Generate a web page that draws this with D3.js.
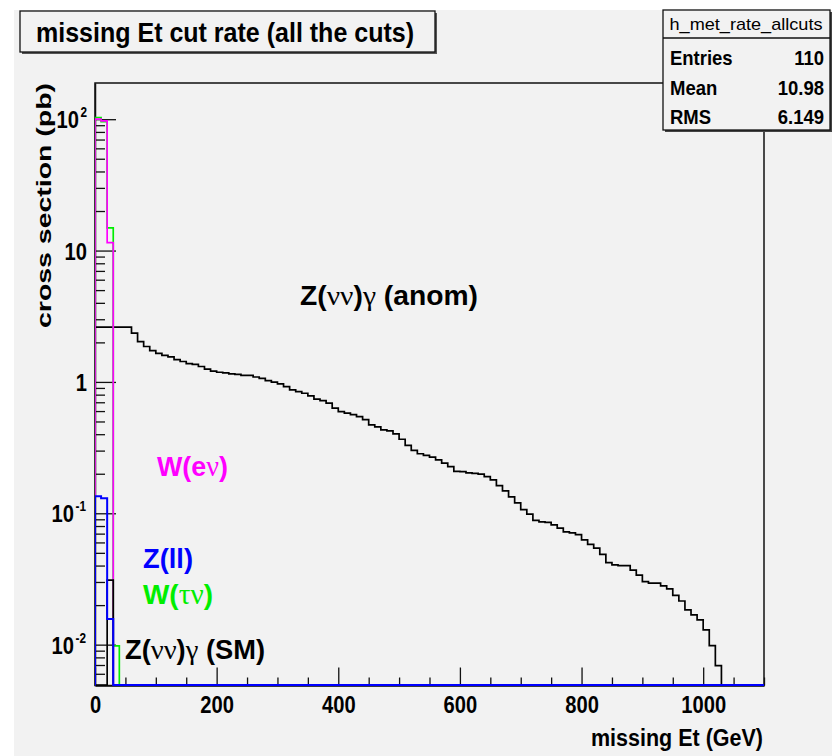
<!DOCTYPE html>
<html><head><meta charset="utf-8">
<script src="https://cdn.jsdelivr.net/npm/d3@7"></script>
<style>body{margin:0;background:#fff} svg{display:block}</style>
</head><body>
<script>
// ---------------- data ----------------
const binWidth = 10; // GeV per bin
const nBins = 110;
const xDomain = [0, 1100];
const yDomain = [0.004887, 188.6];
// Z(nunu)gamma anomalous, bins from 0 GeV, width 10 GeV
const anomValues = [2.61,2.61,2.61,2.61,2.61,2.61,
 2.35,2.03,1.86,1.73,1.65,1.59,1.55,1.48,1.43,1.38,1.36,1.31,1.25,1.21,
 1.185,1.17,1.15,1.14,1.12,1.12,1.09,1.063,1.023,0.995,
 0.966,0.921,0.869,0.844,0.820,0.782,0.739,0.721,0.689,0.631,
 0.594,0.578,0.564,0.544,0.517,0.471,0.454,0.431,0.424,0.402,
 0.366,0.329,0.301,0.284,0.276,0.268,0.255,0.2405,0.2267,0.2084,
 0.2073,0.203,0.2012,0.1984,0.1902,0.1795,0.1625,0.148,0.1333,0.12,
 0.1067,0.0985,0.0883,0.086,0.0852,0.0816,0.077,0.0722,0.0709,0.0687,
 0.0627,0.0579,0.0543,0.0487,0.0421,0.0405,0.04,0.04,0.0369,0.0338,
 0.0302,0.0294,0.0294,0.028,0.0266,0.0237,0.0215,0.0184,0.01686,0.01544,
 0.01296,0.00984,0.00693,0,0,0,0,0,0,0];
const smValues = [0, 0, 0.031];
const wenuValues = [100, 97, 11.5];
const wtaunuValues = [103, 96, 14.9, 0.0098];
const zllValues = [0.135, 0.13, 0.0157];
const xMajorTicks = [0, 200, 400, 600, 800, 1000];
const xMinorTicks = [50,100,150,250,300,350,450,500,550,650,700,750,850,900,950,1050,1100];
const yMajorTicks = [0.01, 0.1, 1, 10, 100];
const yTickLabels = [["10","-2"],["10","-1"],["1",""],["10",""],["10","2"]];
const statsTitle = "h_met_rate_allcuts";
const statsRows = [["Entries","110"],["Mean","10.98"],["RMS","6.149"]];
const titleText = "missing Et cut rate (all the cuts)";
const xTitle = "missing Et (GeV)";
const yTitle = "cross section (pb)";

// ---------------- layout ----------------
const W = 832, H = 756;
const L = 95, R = 764, T = 83, B = 685.5;
const SANS = "'Liberation Sans', Arial, Helvetica, sans-serif";
const SERIF = "'Liberation Serif', 'DejaVu Serif', serif";

const svg = d3.select("body").append("svg").attr("width", W).attr("height", H);
svg.append("rect").attr("width", W).attr("height", H).attr("fill", "#fff");
svg.append("rect").attr("x", 14).attr("y", 10).attr("width", W - 14).attr("height", H - 10).attr("fill", "#f2f2f2");

const x = d3.scaleLinear().domain(xDomain).range([L, R]);
const y = d3.scaleLog().domain(yDomain).range([B, T]);

function fitWidth(sel, w) {
  sel.attr("textLength", w).attr("lengthAdjust", "spacingAndGlyphs");
}
function squeeze(sel, f) {
  sel.each(function () {
    const w = this.getComputedTextLength();
    d3.select(this).attr("textLength", w * f).attr("lengthAdjust", "spacingAndGlyphs");
  });
}

// frame
svg.append("rect").attr("x", L).attr("y", T).attr("width", R - L).attr("height", B - T)
  .attr("fill", "#f2f2f2").attr("stroke", "#111").attr("stroke-width", 1.5);

// ---------------- axes ----------------
const axX = svg.append("g").attr("transform", `translate(0,${B})`)
  .call(d3.axisBottom(x).tickValues(xMajorTicks).tickSize(-18).tickSizeOuter(0).tickFormat(d3.format("d")));
svg.append("g").attr("transform", `translate(0,${B})`)
  .call(d3.axisBottom(x).tickValues(xMinorTicks).tickSize(-8).tickSizeOuter(0).tickFormat(""))
  .call(g => g.select(".domain").remove());
axX.select(".domain").attr("stroke", "#111").attr("stroke-width", 1.5);
svg.selectAll(".tick line").attr("stroke", "#111").attr("stroke-width", 1.3);
axX.selectAll("text").attr("font-family", SANS).attr("font-weight", "bold").attr("font-size", 24)
  .attr("fill", "#000").attr("dy", 0).attr("y", 27);
squeeze(axX.selectAll("text"), 0.84);

const minorY = [];
[0.01, 0.1, 1, 10].forEach(dec => { for (let k = 2; k <= 9; k++) { const v = dec * k; if (v < yDomain[1]) minorY.push(v); } });
[6, 7, 8, 9].forEach(k => minorY.push(k * 0.001));
const axY = svg.append("g").attr("transform", `translate(${L},0)`)
  .call(d3.axisLeft(y).tickValues(yMajorTicks).tickSize(-21).tickSizeOuter(0).tickFormat(""));
svg.append("g").attr("transform", `translate(${L},0)`)
  .call(d3.axisLeft(y).tickValues(minorY).tickSize(-10).tickSizeOuter(0).tickFormat(""))
  .call(g => g.select(".domain").remove())
  .selectAll(".tick line").attr("stroke", "#111").attr("stroke-width", 1.3);
axY.select(".domain").attr("stroke", "#111").attr("stroke-width", 1.5);
axY.selectAll(".tick line").attr("stroke", "#111").attr("stroke-width", 1.3);

yMajorTicks.forEach((v, i) => {
  const [base, sup] = yTickLabels[i];
  const bx = sup ? (sup.length > 1 ? 74 : 79) : 87;
  const t = svg.append("text").attr("x", bx).attr("y", y(v) + 9)
    .attr("text-anchor", "end").attr("font-family", SANS).attr("font-weight", "bold")
    .attr("font-size", 24).attr("fill", "#000").text(base);
  squeeze(t, 0.84);
  if (sup) {
    svg.append("text").attr("x", bx + 1.5).attr("y", y(v) - 2)
      .attr("font-family", SANS).attr("font-weight", "bold")
      .attr("font-size", 14).attr("fill", "#000").text(sup).call(squeeze, 0.84);
  }
});

// ---------------- histograms ----------------
svg.append("clipPath").attr("id", "clip").append("rect")
  .attr("x", L).attr("y", T).attr("width", R - L).attr("height", B - T + 2);
const gH = svg.append("g").attr("clip-path", "url(#clip)");
function histPath(values) {
  let d = `M${x(0)},${B}`;
  for (let i = 0; i < nBins; i++) {
    const v = values[i] || 0;
    const yy = v > yDomain[0] ? y(v) : B - 0.5;
    d += `V${yy}H${x((i + 1) * binWidth)}`;
  }
  return d + `V${B}`;
}
const series = [
  { v: anomValues, c: "#000", w: 1.7 },
  { v: wtaunuValues, c: "#00ee00", w: 1.7 },
  { v: wenuValues, c: "#ff00ff", w: 1.7 },
  { v: smValues, c: "#000", w: 1.7 },
  { v: zllValues, c: "#0000ff", w: 2 }
];
series.forEach(s => gH.append("path").attr("d", histPath(s.v)).attr("fill", "none")
  .attr("stroke", s.c).attr("stroke-width", s.w));

// axis titles
svg.append("text").attr("x", 763).attr("y", 746).attr("text-anchor", "end")
  .attr("font-family", SANS).attr("font-weight", "bold").attr("font-size", 23).text(xTitle)
  .call(fitWidth, 172);
svg.append("text").attr("transform", `translate(51,${T})rotate(-90)`).attr("text-anchor", "end")
  .attr("font-family", SANS).attr("font-weight", "bold").attr("font-size", 21).text(yTitle)
  .call(fitWidth, 245);

// ---------------- title box ----------------
svg.append("rect").attr("x", 22).attr("y", 13).attr("width", 415).attr("height", 41).attr("fill", "#555");
svg.append("rect").attr("x", 20).attr("y", 11).attr("width", 415).attr("height", 41)
  .attr("fill", "#f2f2f2").attr("stroke", "#111").attr("stroke-width", 1.3);
svg.append("text").attr("x", 36).attr("y", 42).attr("font-family", SANS).attr("font-weight", "bold")
  .attr("font-size", 28).text(titleText).call(fitWidth, 378);

// ---------------- stats box ----------------
svg.append("rect").attr("x", 665).attr("y", 12).attr("width", 167).attr("height", 120).attr("fill", "#444");
svg.append("rect").attr("x", 663).attr("y", 10).attr("width", 167).attr("height", 120)
  .attr("fill", "#f2f2f2").attr("stroke", "#111").attr("stroke-width", 1.3);
svg.append("line").attr("x1", 663).attr("x2", 830).attr("y1", 38).attr("y2", 38).attr("stroke", "#111").attr("stroke-width", 1.3);
svg.append("text").attr("x", 746).attr("y", 30).attr("text-anchor", "middle").attr("font-family", SANS)
  .attr("font-size", 17).text(statsTitle).call(fitWidth, 153);
statsRows.forEach((r, i) => {
  const yy = 65 + i * 29.5;
  svg.append("text").attr("x", 670).attr("y", yy).attr("font-family", SANS).attr("font-weight", "bold")
    .attr("font-size", 21).text(r[0]).call(squeeze, 0.88);
  svg.append("text").attr("x", 824).attr("y", yy).attr("text-anchor", "end").attr("font-family", SANS)
    .attr("font-weight", "bold").attr("font-size", 21).text(r[1]).call(squeeze, 0.88);
});

// ---------------- labels ----------------
function rich(xp, yp, color, parts, size, w) {
  const t = svg.append("text").attr("x", xp).attr("y", yp).attr("fill", color)
    .attr("font-size", size).attr("font-family", SANS).attr("font-weight", "bold");
  parts.forEach(p => {
    const s = t.append("tspan").text(p[0]);
    if (p[1]) s.attr("font-family", SERIF).attr("font-weight", "normal").attr("font-size", size * 1.05);
  });
  if (w) fitWidth(t, w);
  return t;
}
rich(300, 305, "#000", [["Z(", 0], ["νν", 1], [")", 0], ["γ", 1], [" (anom)", 0]], 27, 178);
rich(157, 476, "#ff00ff", [["W(e", 0], ["ν", 1], [")", 0]], 28, 71);
rich(143, 568, "#0000ff", [["Z(ll)", 0]], 28, 50);
rich(143, 604, "#00ee00", [["W(", 0], ["τν", 1], [")", 0]], 28, 70);
rich(125, 659, "#000", [["Z(", 0], ["νν", 1], [")", 0], ["γ", 1], [" (SM)", 0]], 27, 140);
</script>
</body></html>
